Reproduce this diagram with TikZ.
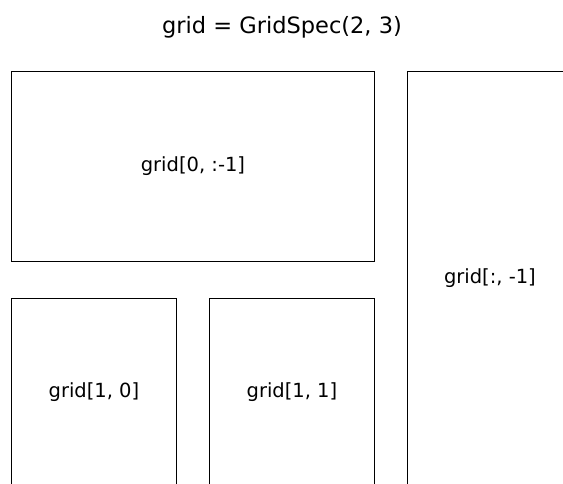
\documentclass[tikz,border=0pt]{standalone}
\usepackage{fontspec}
\setmainfont{DejaVu Sans}
\usepackage{tikz}
\usetikzlibrary{positioning}

\begin{document}
\begin{tikzpicture}[
    x=1pt, y=-1pt,
    panel/.style={rectangle, draw=black, line width=0.9pt, inner sep=0pt, anchor=north west, font=\fontsize{19.5}{23}\selectfont},
    heading/.style={font=\fontsize{22.5}{27}\selectfont}
]
    \useasboundingbox (0,0) rectangle (563,483);
    \clip (0,0) rectangle (563,483);
    \node[heading] (title) at (282,27) {grid = GridSpec(2, 3)};
    \node[panel, minimum width=363pt, minimum height=190pt] (wide) at (11,71) {grid[0, :-1]};
    \node[panel, minimum width=165pt, minimum height=187pt] (left) at (11,298) {grid[1, 0]};
    \node[panel, minimum width=165pt, minimum height=187pt] (middle) at (209,298) {grid[1, 1]};
    \node[panel, minimum width=165pt, minimum height=414pt] (tall) at (407,71) {grid[:, -1]};
\end{tikzpicture}
\end{document}
